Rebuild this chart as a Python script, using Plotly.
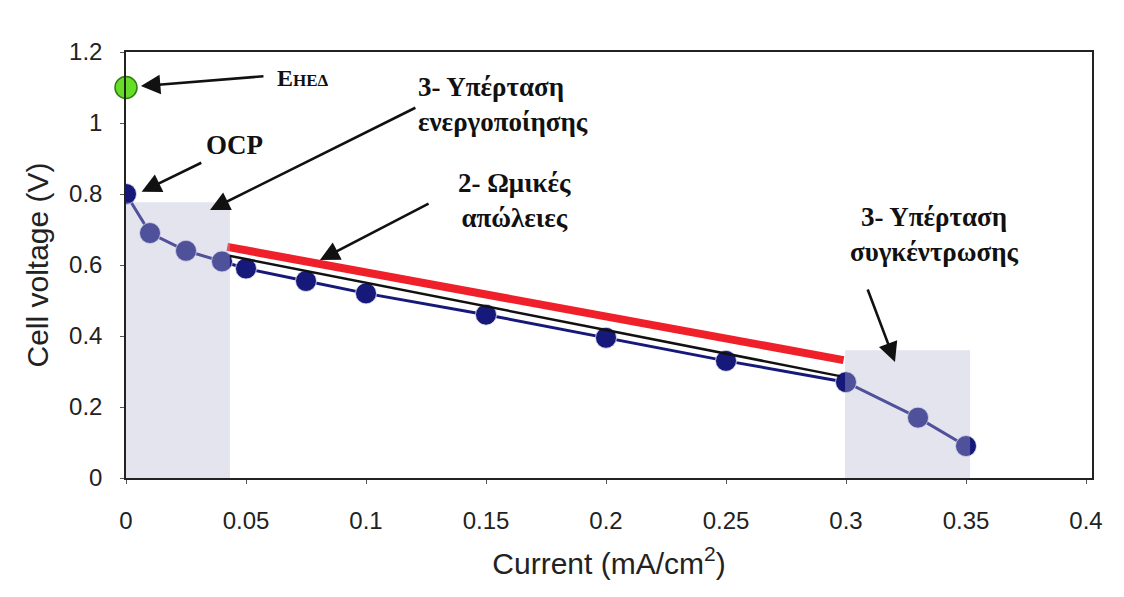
import plotly.graph_objects as go

# Data
current = [0.0, 0.01, 0.025, 0.04, 0.05, 0.075, 0.10, 0.15, 0.20, 0.25, 0.30, 0.33, 0.35]
voltage = [0.80, 0.69, 0.64, 0.61, 0.59, 0.555, 0.52, 0.46, 0.395, 0.33, 0.27, 0.17, 0.09]

ehed_x = [0.0]
ehed_y = [1.10]

ohmic_red_x = [0.0422, 0.299]
ohmic_red_y = [0.651, 0.332]
ohmic_black_x = [0.043, 0.2975]
ohmic_black_y = [0.626, 0.287]

x_ticks = [0, 0.05, 0.1, 0.15, 0.2, 0.25, 0.3, 0.35, 0.4]
x_tick_text = ["0", "0.05", "0.1", "0.15", "0.2", "0.25", "0.3", "0.35", "0.4"]
y_ticks = [0, 0.2, 0.4, 0.6, 0.8, 1.0, 1.2]
y_tick_text = ["0", "0.2", "0.4", "0.6", "0.8", "1", "1.2"]

act_region = dict(x0=0.0, x1=0.0433, y0=0.0, y1=0.777)
conc_region = dict(x0=0.2996, x1=0.3517, y0=0.0, y1=0.36)

NAVY = "#16197a"
SERIF = "Liberation Serif"
SANS = "Liberation Sans"
TICK_FONT = dict(family=SANS, size=24, color="#222222")
TITLE_FONT = dict(family=SANS, size=30, color="#222222")

fig = go.Figure()

fig.add_trace(go.Scatter(
    x=current, y=voltage, mode="lines+markers",
    line=dict(color=NAVY, width=3),
    marker=dict(size=21, color=NAVY, line=dict(color="rgba(230,230,245,0.8)", width=1)),
    showlegend=False, hoverinfo="skip"))

fig.add_trace(go.Scatter(
    x=ohmic_black_x, y=ohmic_black_y, mode="lines",
    line=dict(color="#111111", width=2.5),
    showlegend=False, hoverinfo="skip"))

fig.add_trace(go.Scatter(
    x=ohmic_red_x, y=ohmic_red_y, mode="lines",
    line=dict(color="#f0202a", width=8),
    showlegend=False, hoverinfo="skip"))

fig.add_trace(go.Scatter(
    x=ehed_x, y=ehed_y, mode="markers",
    marker=dict(size=22, color="#66dd26", line=dict(color="#2f7d14", width=1.5)),
    showlegend=False, hoverinfo="skip", cliponaxis=False))

for r in (act_region, conc_region):
    fig.add_shape(type="rect", xref="x", yref="y", layer="above",
                  line=dict(width=0), fillcolor="rgba(180,180,212,0.36)", **r)

# Text labels
label_font = dict(family=SERIF, size=27, color="#111111")
texts = [
    dict(x=0.0738, y=1.128, text="<b>E<span style='font-size:17px'>ΗΕΔ</span></b>", align="left",
         font=dict(family=SERIF, size=24, color="#111111")),
    dict(x=0.0450, y=0.938, text="<b>OCP</b>", align="center",
         font=dict(family=SERIF, size=27, color="#111111")),
    dict(x=0.1210, y=1.051, text="<b>3- Υπέρταση<br>ενεργοποίησης</b>", align="left",
         xanchor="left", font=label_font),
    dict(x=0.1617, y=0.783, text="<b>2- Ωμικές<br>απώλειες</b>", align="center", font=label_font),
    dict(x=0.3370, y=0.687, text="<b>3- Υπέρταση<br>συγκέντρωσης</b>", align="center", font=label_font),
]
for t in texts:
    fig.add_annotation(xref="x", yref="y", showarrow=False, **t)

# Arrows: (tail_x, tail_y, tip_x, tip_y)
arrows = [
    (0.0579, 1.132, 0.0062, 1.104),
    (0.0320, 0.890, 0.0065, 0.806),
    (0.1212, 1.045, 0.0350, 0.755),
    (0.1267, 0.775, 0.0808, 0.614),
    (0.3088, 0.535, 0.3204, 0.327),
]
for ax_, ay_, x_, y_ in arrows:
    fig.add_annotation(x=x_, y=y_, ax=ax_, ay=ay_, xref="x", yref="y",
                       axref="x", ayref="y", text="", showarrow=True,
                       arrowhead=2, arrowsize=1.5, arrowwidth=2.6,
                       arrowcolor="#111111")

fig.update_layout(
    width=1124, height=597,
    margin=dict(l=126, r=32, t=52, b=119),
    paper_bgcolor="white", plot_bgcolor="white",
    xaxis=dict(
        range=[0, 0.4025], tickmode="array", tickvals=x_ticks, ticktext=x_tick_text,
        showgrid=False, zeroline=False, showline=True, mirror=True,
        linecolor="#222222", linewidth=1.5, ticks="outside", ticklen=4,
        tickcolor="#555555", ticklabelstandoff=16, tickfont=TICK_FONT,
        title=dict(text="Current (mA/cm<sup>2</sup>)", standoff=20, font=TITLE_FONT)),
    yaxis=dict(
        range=[0, 1.2], tickmode="array", tickvals=y_ticks, ticktext=y_tick_text,
        showgrid=False, zeroline=False, showline=True, mirror=True,
        linecolor="#222222", linewidth=1.5, ticks="outside", ticklen=4,
        tickcolor="#555555", ticklabelstandoff=13, tickfont=TICK_FONT,
        title=dict(text="Cell voltage (V)", standoff=12, font=TITLE_FONT)),
)

fig.write_html("out.html")
